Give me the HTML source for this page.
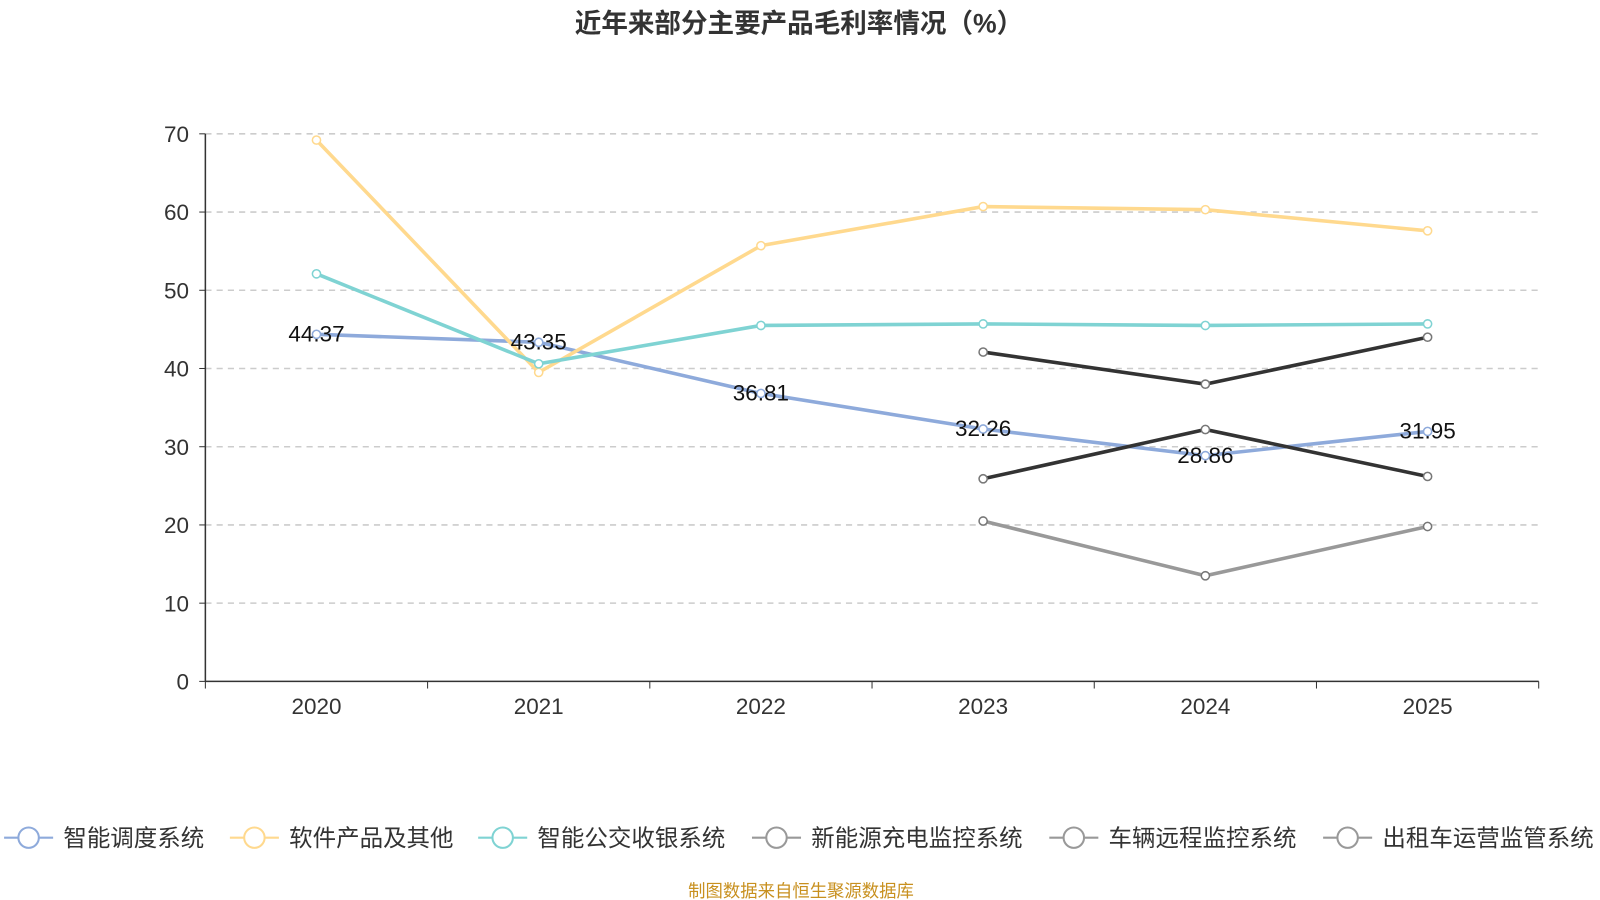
<!DOCTYPE html>
<html><head><meta charset="utf-8">
<style>
body{margin:0;background:#fff;}
svg{display:block;}
svg text{font-family:"Liberation Sans","Noto Sans CJK SC",sans-serif;}
</style></head>
<body>
<svg id="chart" width="1600" height="900" viewBox="0 0 1566 881" preserveAspectRatio="none" xmlns="http://www.w3.org/2000/svg">
<text x="782" y="32" text-anchor="middle" font-size="26" font-weight="bold" fill="#333">近年来部分主要产品毛利率情况（%）</text>
<g id="grid"></g><g id="axes"></g><g id="series"></g><g id="labels"></g><g id="legend"></g>
<text x="784" y="878" text-anchor="middle" font-size="17" fill="#c8901f">制图数据来自恒生聚源数据库</text>
</svg>
<script>
const categories=["2020","2021","2022","2023","2024","2025"];
const yTicks=[0,10,20,30,40,50,60,70];
const seriesNames=["智能调度系统","软件产品及其他","智能公交收银系统","新能源充电监控系统","车辆远程监控系统","出租车运营监管系统"];
const s1=[44.37,43.35,36.81,32.26,28.86,31.95];
const s2=[69.2,39.5,55.7,60.7,60.3,57.6];
const s3=[52.1,40.6,45.5,45.7,45.5,45.7];
const s4=[null,null,null,42.1,38.0,44.0];
const s5=[null,null,null,25.9,32.2,26.2];
const s6=[null,null,null,20.5,13.5,19.8];
const colors=["#8eaadb","#ffd98e","#7fd3d3","#333333","#333333","#999999"];
const legendColors=["#8eaadb","#ffd98e","#7fd3d3","#999999","#999999","#999999"];
const NS="http://www.w3.org/2000/svg";
const X0=201,X1=1506,Y0=667,Y1=131;
const band=(X1-X0)/categories.length;
const xs=i=>X0+band*(i+0.5);
const ys=v=>Y0-(v/70)*(Y0-Y1);
function mk(tag,attrs,parent){const e=document.createElementNS(NS,tag);for(const k in attrs)e.setAttribute(k,attrs[k]);parent.appendChild(e);return e;}
const grid=document.getElementById('grid'),axes=document.getElementById('axes'),ser=document.getElementById('series'),lab=document.getElementById('labels'),leg=document.getElementById('legend');
yTicks.forEach(t=>{
  if(t>0){const g=mk('line',{x1:X0,x2:X1,y1:ys(t),y2:ys(t),stroke:'#ccc','stroke-dasharray':'6,5','stroke-width':1.5},grid);
  
  }
  const tl=mk('text',{x:185,y:ys(t)+8,'text-anchor':'end','font-size':22,fill:'#333'},axes);tl.textContent=t;
  
  
  mk('line',{x1:X0-6,x2:X0,y1:ys(t),y2:ys(t),stroke:'#333'},axes);
});
mk('line',{x1:X0,x2:X0,y1:Y1,y2:Y0,stroke:'#333','stroke-width':1.5},axes);
mk('line',{x1:X0,x2:X1,y1:Y0,y2:Y0,stroke:'#333','stroke-width':1.5},axes);
for(let i=0;i<=categories.length;i++)mk('line',{x1:X0+band*i,x2:X0+band*i,y1:Y0,y2:Y0+7,stroke:'#333'},axes);
categories.forEach((c,i)=>{const t=mk('text',{x:xs(i),y:699,'text-anchor':'middle','font-size':22,fill:'#333'},axes);t.textContent=c;
  
  });
const all=[s1,s2,s3,s4,s5,s6];
all.forEach((s,si)=>{
  let d='';s.forEach((v,i)=>{if(v==null)return;d+=(d?'L':'M')+xs(i)+','+ys(v);});
  const p=mk('path',{d:d,fill:'none',stroke:colors[si],'stroke-width':3.5},ser);
  
  
  s.forEach((v,i)=>{if(v==null)return;const c=mk('circle',{cx:xs(i),cy:ys(v),r:4,fill:'#fff',stroke:si>=3?'#777':colors[si],'stroke-width':1.5},ser);
    
    });
});
s1.forEach((v,i)=>{const t=mk('text',{x:xs(i),y:ys(v)+7,'text-anchor':'middle','font-size':22,fill:'#111'},lab);t.textContent=v.toFixed(2);
  
  });
const legX=[28,249,492,760,1051,1319];
seriesNames.forEach((n,i)=>{
  const g=mk('g',{},leg);
  
  
  mk('line',{x1:legX[i]-24,x2:legX[i]+24,y1:820,y2:820,stroke:legendColors[i],'stroke-width':2},g);
  mk('circle',{cx:legX[i],cy:820,r:10,fill:'#fff',stroke:legendColors[i],'stroke-width':2},g);
  const t=mk('text',{x:legX[i]+34,y:828,'font-size':23,fill:'#333'},g);t.textContent=n;
});
</script>
</body></html>
